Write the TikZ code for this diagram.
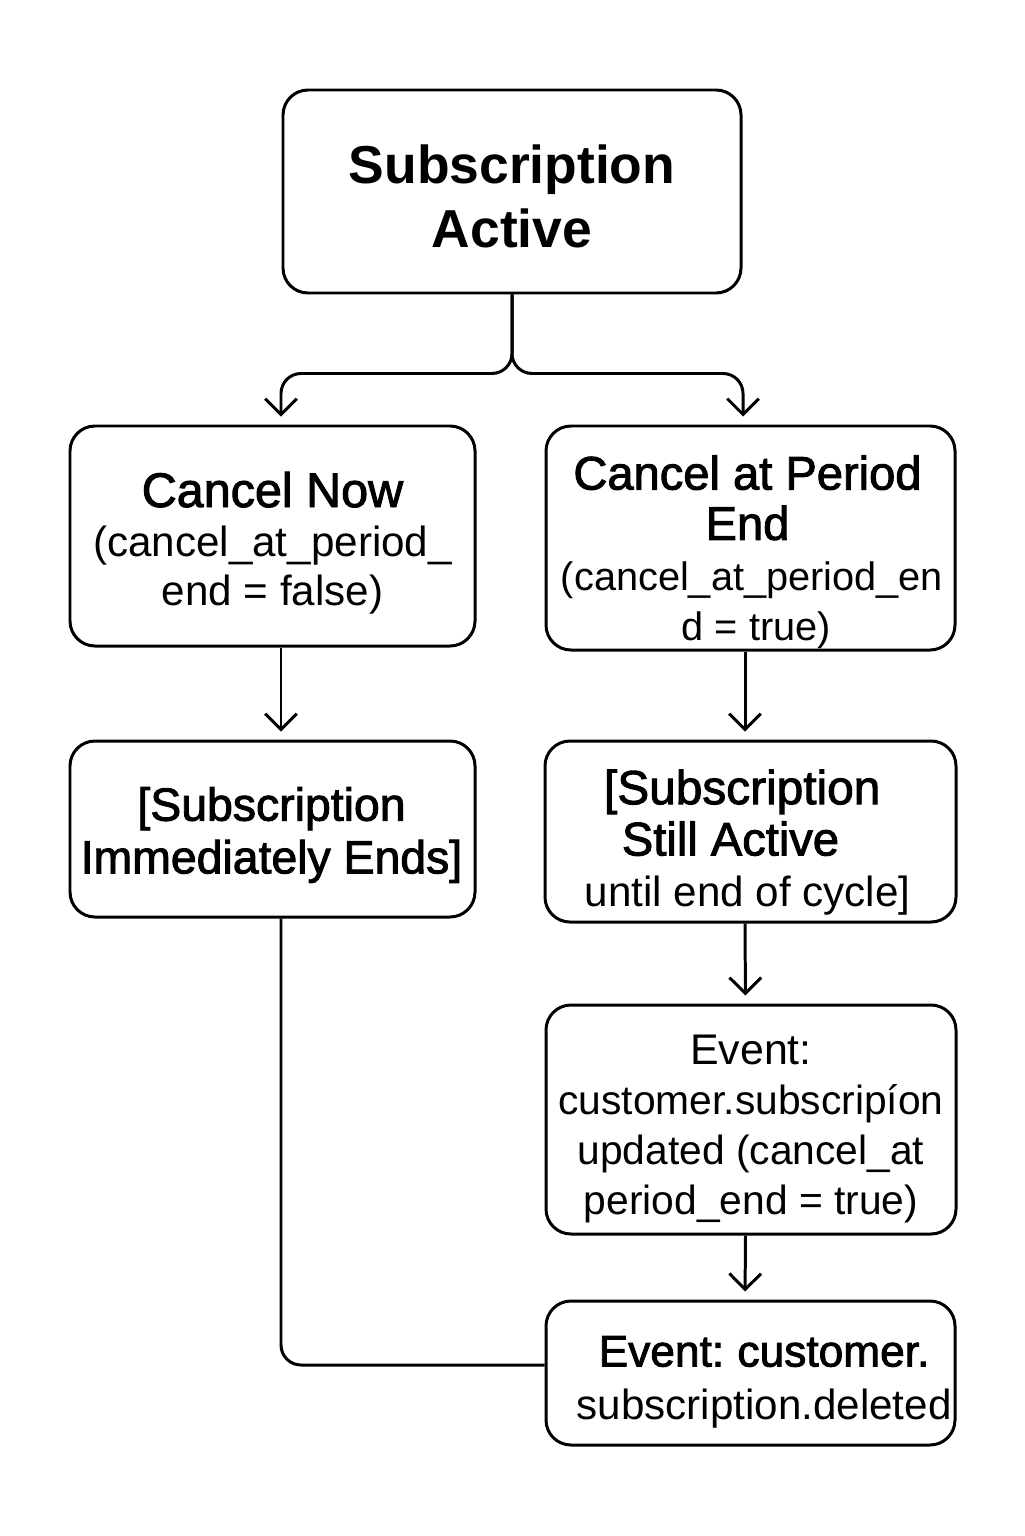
\documentclass[tikz,border=0pt]{standalone}
\usepackage{fontspec}
\setmainfont{Liberation Sans}
\newfontfamily\medfont{Liberation Sans}[FakeBold=2]
\usetikzlibrary{arrows.meta,calc}
\tikzset{
  box/.style={draw=black, line width=0.85pt, rounded corners=0.25cm, inner sep=0pt},
  txt/.style={align=center, inner sep=0pt},
  conn/.style={draw=black, line width=0.85pt},
  arr/.style={conn, -{Straight Barb[length=4.5pt,width=9pt,line width=0.85pt]}, shorten >=0.08cm},
}
\newcommand{\hd}{\fontsize{13.4}{15}\medfont}
\begin{document}
\begin{tikzpicture}
\useasboundingbox (0,0) rectangle (10.24,-15.36);
\fill[white] (0,0) rectangle (10.24,-15.36);

% boxes
\node[box, minimum width=4.58cm, minimum height=2.03cm] (top) at (5.12,-1.915) {};
\node[box, minimum width=4.05cm, minimum height=2.20cm] (cnow) at (2.725,-5.36) {};
\node[box, minimum width=4.09cm, minimum height=2.24cm] (cend) at (7.505,-5.38) {};
\node[box, minimum width=4.05cm, minimum height=1.76cm] (imm) at (2.725,-8.29) {};
\node[box, minimum width=4.11cm, minimum height=1.81cm] (still) at (7.505,-8.315) {};
\node[box, minimum width=4.10cm, minimum height=2.29cm] (upd) at (7.51,-11.195) {};
\node[box, minimum width=4.09cm, minimum height=1.44cm] (del) at (7.505,-13.73) {};

% texts
\node[txt, font=\fontsize{15.2}{18}\selectfont\bfseries] (topT) at ($(top)+(0,-0.05)$) {Subscription\\Active};

\node[txt, font=\fontsize{12}{14}\selectfont] (cnowT) at ($(cnow)+(0,-0.07)$)
  {{\fontsize{13.8}{15}\medfont Cancel Now}\\(cancel\_at\_period\_\\end = false)};

\node[txt, font=\fontsize{11.3}{14.3}\selectfont] (cendT) at ($(cend)+(-0.03,-0.14)$)
  {{\hd Cancel at Period}\\{\hd End}\\\phantom{i}(cancel\_at\_period\_en\\\phantom{ii}d = true)};

\node[txt, font=\fontsize{13.2}{15}\medfont] (immT) at ($(imm)+(-0.01,-0.06)$)
  {[Subscription\\Immediately Ends]};

\node[txt, font=\fontsize{12}{14.6}\selectfont] (stillT) at ($(still)+(-0.03,-0.11)$)
  {{\fontsize{13.6}{15}\medfont [Subscription\phantom{i}}\\{\hd Still Active\phantom{xi}}\\until end of cycle]};

\node[txt, font=\fontsize{11.6}{14.3}\selectfont] (updT) at ($(upd)+(0,-0.095)$)
  {{\fontsize{12.2}{14}\selectfont Event:}\\customer.subscripíon\\updated (cancel\_at\\period\_end = true)};

\node[txt, font=\fontsize{12}{15}\selectfont] (delT) at ($(del)+(0.03,-0.09)$)
  {\phantom{x}{\fontsize{12.6}{15}\medfont Event:\hspace{0.3em}customer.}\\\phantom{x}subscription.deleted};

% connectors
\draw[arr, rounded corners=0.2cm] (top.south) -- ($(top.south)+(0,-0.79)$) -| ([xshift=0.085cm]cnow.north);
\draw[arr, rounded corners=0.2cm] (top.south) -- ($(top.south)+(0,-0.79)$) -| ([xshift=-0.075cm]cend.north);
\draw[arr] ([xshift=0.085cm]cnow.south) -- ([xshift=0.085cm]imm.north);
\draw[arr] ([xshift=-0.055cm]cend.south) -- ([xshift=-0.055cm]still.north);
\draw[arr] ([xshift=-0.055cm]still.south) -- ([xshift=-0.055cm]upd.north);
\draw[arr] ([xshift=-0.055cm]upd.south) -- ([xshift=-0.055cm]del.north);
\draw[conn, rounded corners=0.2cm] ([xshift=0.085cm]imm.south) |- ([yshift=0.08cm]del.west);
\end{tikzpicture}
\end{document}
